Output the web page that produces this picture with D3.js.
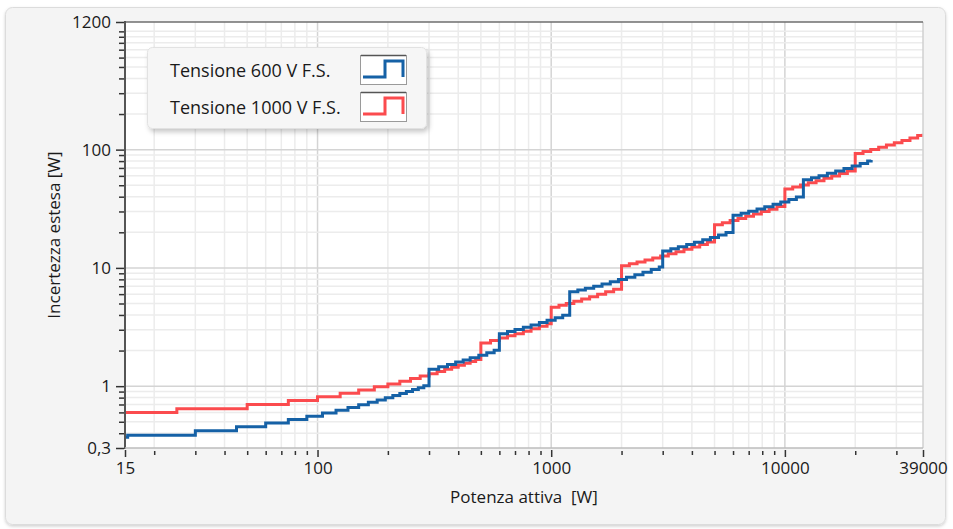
<!DOCTYPE html>
<html><head><meta charset="utf-8">
<script src="https://cdn.jsdelivr.net/npm/d3@7"></script>
<style>
body{margin:0;background:#fff;}
svg{display:block;font-family:"Segoe UI","Open Sans","Noto Sans",sans-serif;}
</style>
</head><body>
<svg id="c" width="953" height="529"></svg>
<script>
// ---- data ----
const seriesNames = ["Tensione 600 V F.S.", "Tensione 1000 V F.S."];
const seriesColors = ["#1561a6", "#fb4b4e"];

const power600 = [15,15.4,30,45,60,75,90,105,120,135,150,165,180,195,210,225,240,255,270,285,
  300,330,360,390,420,450,490,530,570,
  600,650,700,760,820,890,960,1040,1120,
  1200,1300,1400,1520,1650,1790,1940,2100,2280,2470,2680,2900,
  3000,3250,3500,3800,4100,4450,4800,5200,5600,
  6000,6500,7000,7600,8200,8900,9600,10400,11200,
  12000,13000,14000,15200,16500,17900,19400,21000,22600,23400];
const unc600 = [0.37,0.385,0.419,0.454,0.488,0.523,0.557,0.592,0.626,0.661,0.695,0.730,0.764,0.799,0.833,0.868,0.902,0.937,0.971,1.006,
  1.39,1.459,1.528,1.597,1.666,1.735,1.827,1.919,2.011,
  2.78,2.895,3.01,3.148,3.286,3.447,3.608,3.792,3.976,
  6.27,6.50,6.73,7.01,7.31,7.63,7.97,8.34,8.75,9.19,9.67,10.18,
  13.92,14.50,15.07,15.76,16.45,17.26,18.06,18.98,19.90,
  27.84,28.99,30.14,31.52,32.90,34.51,36.12,37.96,39.80,
  55.68,57.98,60.28,63.04,66.03,69.25,72.70,76.38,80.06,81.9];

const power1000 = [15,25,50,75,100,125,150,175,200,225,250,275,300,325,350,375,400,425,450,475,
  500,550,600,650,700,760,820,890,960,
  1000,1080,1160,1250,1350,1460,1580,1710,1850,
  2000,2160,2330,2520,2720,2940,3170,3420,3700,4000,4320,4660,
  5000,5400,5830,6300,6800,7340,7930,8560,9250,
  10000,10800,11660,12600,13600,14700,15870,17140,18510,
  20000,21600,23300,25200,27200,29400,31700,34300,37000,39000];
const unc1000 = [0.60,0.643,0.70,0.758,0.815,0.873,0.93,0.988,1.045,1.103,1.16,1.218,1.275,1.333,1.39,1.448,1.505,1.563,1.62,1.678,
  2.32,2.435,2.55,2.665,2.78,2.918,3.056,3.217,3.378,
  4.64,4.824,5.008,5.215,5.445,5.698,5.974,6.273,6.595,
  10.45,10.82,11.21,11.65,12.11,12.61,13.14,13.72,14.36,15.05,15.79,16.57,
  23.2,24.12,25.11,26.19,27.34,28.58,29.94,31.39,32.98,
  46.4,48.24,50.22,52.38,54.68,57.21,59.9,62.82,65.97,
  92.8,96.48,100.39,104.76,109.36,114.42,119.71,125.69,131.9,136.5];

const xTickValues = [15,100,1000,10000,39000];
const xTickLabels = ["15","100","1000","10000","39000"];
const yTickValues = [0.3,1,10,100,1200];
const yTickLabels = ["0,3","1","10","100","1200"];
const xTitle = "Potenza attiva  [W]";
const yTitle = "Incertezza estesa [W]";

// ---- layout ----
const plot = {l:125, r:923, t:22, b:448};
const svg = d3.select("#c");
const defs = svg.append("defs");
const f = defs.append("filter").attr("id","sh").attr("x","-10%").attr("y","-10%").attr("width","130%").attr("height","140%");
f.append("feDropShadow").attr("dx",2).attr("dy",3).attr("stdDeviation",2.5).attr("flood-color","#000").attr("flood-opacity",0.22);
const f2 = defs.append("filter").attr("id","sh2").attr("x","-5%").attr("y","-5%").attr("width","110%").attr("height","110%");
f2.append("feDropShadow").attr("dx",0).attr("dy",1.5).attr("stdDeviation",1.5).attr("flood-color","#000").attr("flood-opacity",0.18);
defs.append("clipPath").attr("id","clip").append("rect")
  .attr("x",plot.l).attr("y",plot.t).attr("width",plot.r-plot.l).attr("height",plot.b-plot.t);

// panel
svg.append("rect").attr("x",5.5).attr("y",7.5).attr("width",940).attr("height",517).attr("rx",7)
  .attr("fill","#f4f4f4").attr("stroke","#dcdcdc").attr("filter","url(#sh2)");

const x = d3.scaleLog().domain([15,39000]).range([plot.l, plot.r]);
const y = d3.scaleLog().domain([0.3,1200]).range([plot.b, plot.t]);

svg.append("rect").attr("x",plot.l).attr("y",plot.t).attr("width",plot.r-plot.l).attr("height",plot.b-plot.t).attr("fill","#fff");

// minor tick values
const xMinor = [];
[10,100,1000,10000].forEach(d => { for (let k=2;k<=9;k++){ const v=k*d; if (v>15 && v<39000) xMinor.push(v);} });
const yMinor = [];
[0.1,1,10,100].forEach(d => { for (let k=1;k<=9;k++){ const v=+(k*d).toFixed(3); if (v>0.3 && v<1200 && yTickValues.indexOf(v)<0) yMinor.push(v);} });
yMinor.push(1000);

// grid
const g = svg.append("g");
g.selectAll("line.vx").data(xMinor).join("line")
  .attr("x1",d=>x(d)).attr("x2",d=>x(d)).attr("y1",plot.t).attr("y2",plot.b)
  .attr("stroke","#ececec").attr("stroke-width",1.5);
g.selectAll("line.vmaj").data([100,1000,10000]).join("line")
  .attr("x1",d=>x(d)).attr("x2",d=>x(d)).attr("y1",plot.t).attr("y2",plot.b)
  .attr("stroke","#d4d4d4").attr("stroke-width",1.5);
g.selectAll("line.hy").data(yMinor).join("line")
  .attr("y1",d=>y(d)).attr("y2",d=>y(d)).attr("x1",plot.l).attr("x2",plot.r)
  .attr("stroke","#ececec").attr("stroke-width",1.5);
g.selectAll("line.hmaj").data([1,10,100]).join("line")
  .attr("y1",d=>y(d)).attr("y2",d=>y(d)).attr("x1",plot.l).attr("x2",plot.r)
  .attr("stroke","#d4d4d4").attr("stroke-width",1.5);

// series
const series = [
  {name:seriesNames[1], color:seriesColors[1], pts: power1000.map((p,i)=>[p,unc1000[i]])},
  {name:seriesNames[0], color:seriesColors[0], pts: power600.map((p,i)=>[p,unc600[i]])}
];
const line = d3.line().x(d=>x(d[0])).y(d=>y(d[1])).curve(d3.curveStepAfter);
svg.append("g").attr("clip-path","url(#clip)").selectAll("path").data(series).join("path")
  .attr("d",d=>line(d.pts)).attr("fill","none").attr("stroke",d=>d.color).attr("stroke-width",3);

// frame
svg.append("line").attr("x1",plot.r).attr("x2",plot.r).attr("y1",plot.t).attr("y2",plot.b).attr("stroke","#d0d0d0").attr("stroke-width",1.5);
svg.append("line").attr("x1",plot.l).attr("x2",plot.r).attr("y1",plot.t).attr("y2",plot.t).attr("stroke","#6e6e6e").attr("stroke-width",1.5);

// axes
const axStyle = sel => {
  sel.select(".domain").remove();
  sel.selectAll(".tick line").attr("stroke","#333").attr("stroke-width",1.5);
  sel.selectAll(".tick text").attr("fill","#1a1a1a").attr("font-size","17px").attr("font-family","Segoe UI, Open Sans, Noto Sans, sans-serif");
};
const yAxis = svg.append("g").attr("transform",`translate(${plot.l-1},0)`)
  .call(d3.axisLeft(y).tickValues(yTickValues).tickFormat((d,i)=>yTickLabels[i]).tickSize(8).tickPadding(5));
axStyle(yAxis);
const yAxisMinor = svg.append("g").attr("transform",`translate(${plot.l-1},0)`)
  .call(d3.axisLeft(y).tickValues(yMinor).tickFormat("").tickSize(5));
axStyle(yAxisMinor);
const xAxis = svg.append("g").attr("transform",`translate(0,${plot.b+2})`)
  .call(d3.axisBottom(x).tickValues(xTickValues).tickFormat((d,i)=>xTickLabels[i]).tickSize(7).tickPadding(5));
axStyle(xAxis);
const xAxisMinor = svg.append("g").attr("transform",`translate(0,${plot.b+3})`)
  .call(d3.axisBottom(x).tickValues(xMinor).tickFormat("").tickSize(4));
axStyle(xAxisMinor);
svg.append("line").attr("x1",plot.l).attr("x2",plot.l).attr("y1",plot.t-1).attr("y2",plot.b+1).attr("stroke","#555").attr("stroke-width",2);
svg.append("line").attr("x1",plot.l).attr("x2",plot.r).attr("y1",plot.b).attr("y2",plot.b).attr("stroke","#bdbdbd").attr("stroke-width",1.5);

// titles
svg.append("text").attr("x",(plot.l+plot.r)/2).attr("y",503).attr("text-anchor","middle")
  .attr("font-size","17px").attr("fill","#1a1a1a").style("white-space","pre").text(xTitle);
svg.append("text").attr("transform",`translate(60,${(plot.t+plot.b)/2}) rotate(-90)`).attr("text-anchor","middle")
  .attr("font-size","17px").attr("fill","#1a1a1a").text(yTitle);

// legend
const lg = svg.append("g");
lg.append("rect").attr("x",147.5).attr("y",47.5).attr("width",279).attr("height",81).attr("rx",5)
  .attr("fill","#f6f6f6").attr("stroke","#e2e2e2").attr("filter","url(#sh)");
const legendItems = [series[1], series[0]];
legendItems.forEach((s,i)=>{
  const cy = 70 + i*37;
  lg.append("text").attr("x",170).attr("y",cy+7).attr("font-size","18px").attr("fill","#1a1a1a").text(s.name);
  lg.append("rect").attr("x",360.5).attr("y",cy-14.5).attr("width",46).attr("height",29)
    .attr("fill","#fff").attr("stroke","#9a9a9a");
  lg.append("line").attr("x1",361).attr("x2",406).attr("y1",cy-14.5).attr("y2",cy-14.5).attr("stroke","#555").attr("stroke-width",1.5);
  const px = [363,385,385,403,403], py = [cy+7,cy+7,cy-9,cy-9,cy+7];
  lg.append("path").attr("d", d3.line()(px.map((v,k)=>[v,py[k]])))
    .attr("fill","none").attr("stroke",s.color).attr("stroke-width",3);
});
</script>
</body></html>
